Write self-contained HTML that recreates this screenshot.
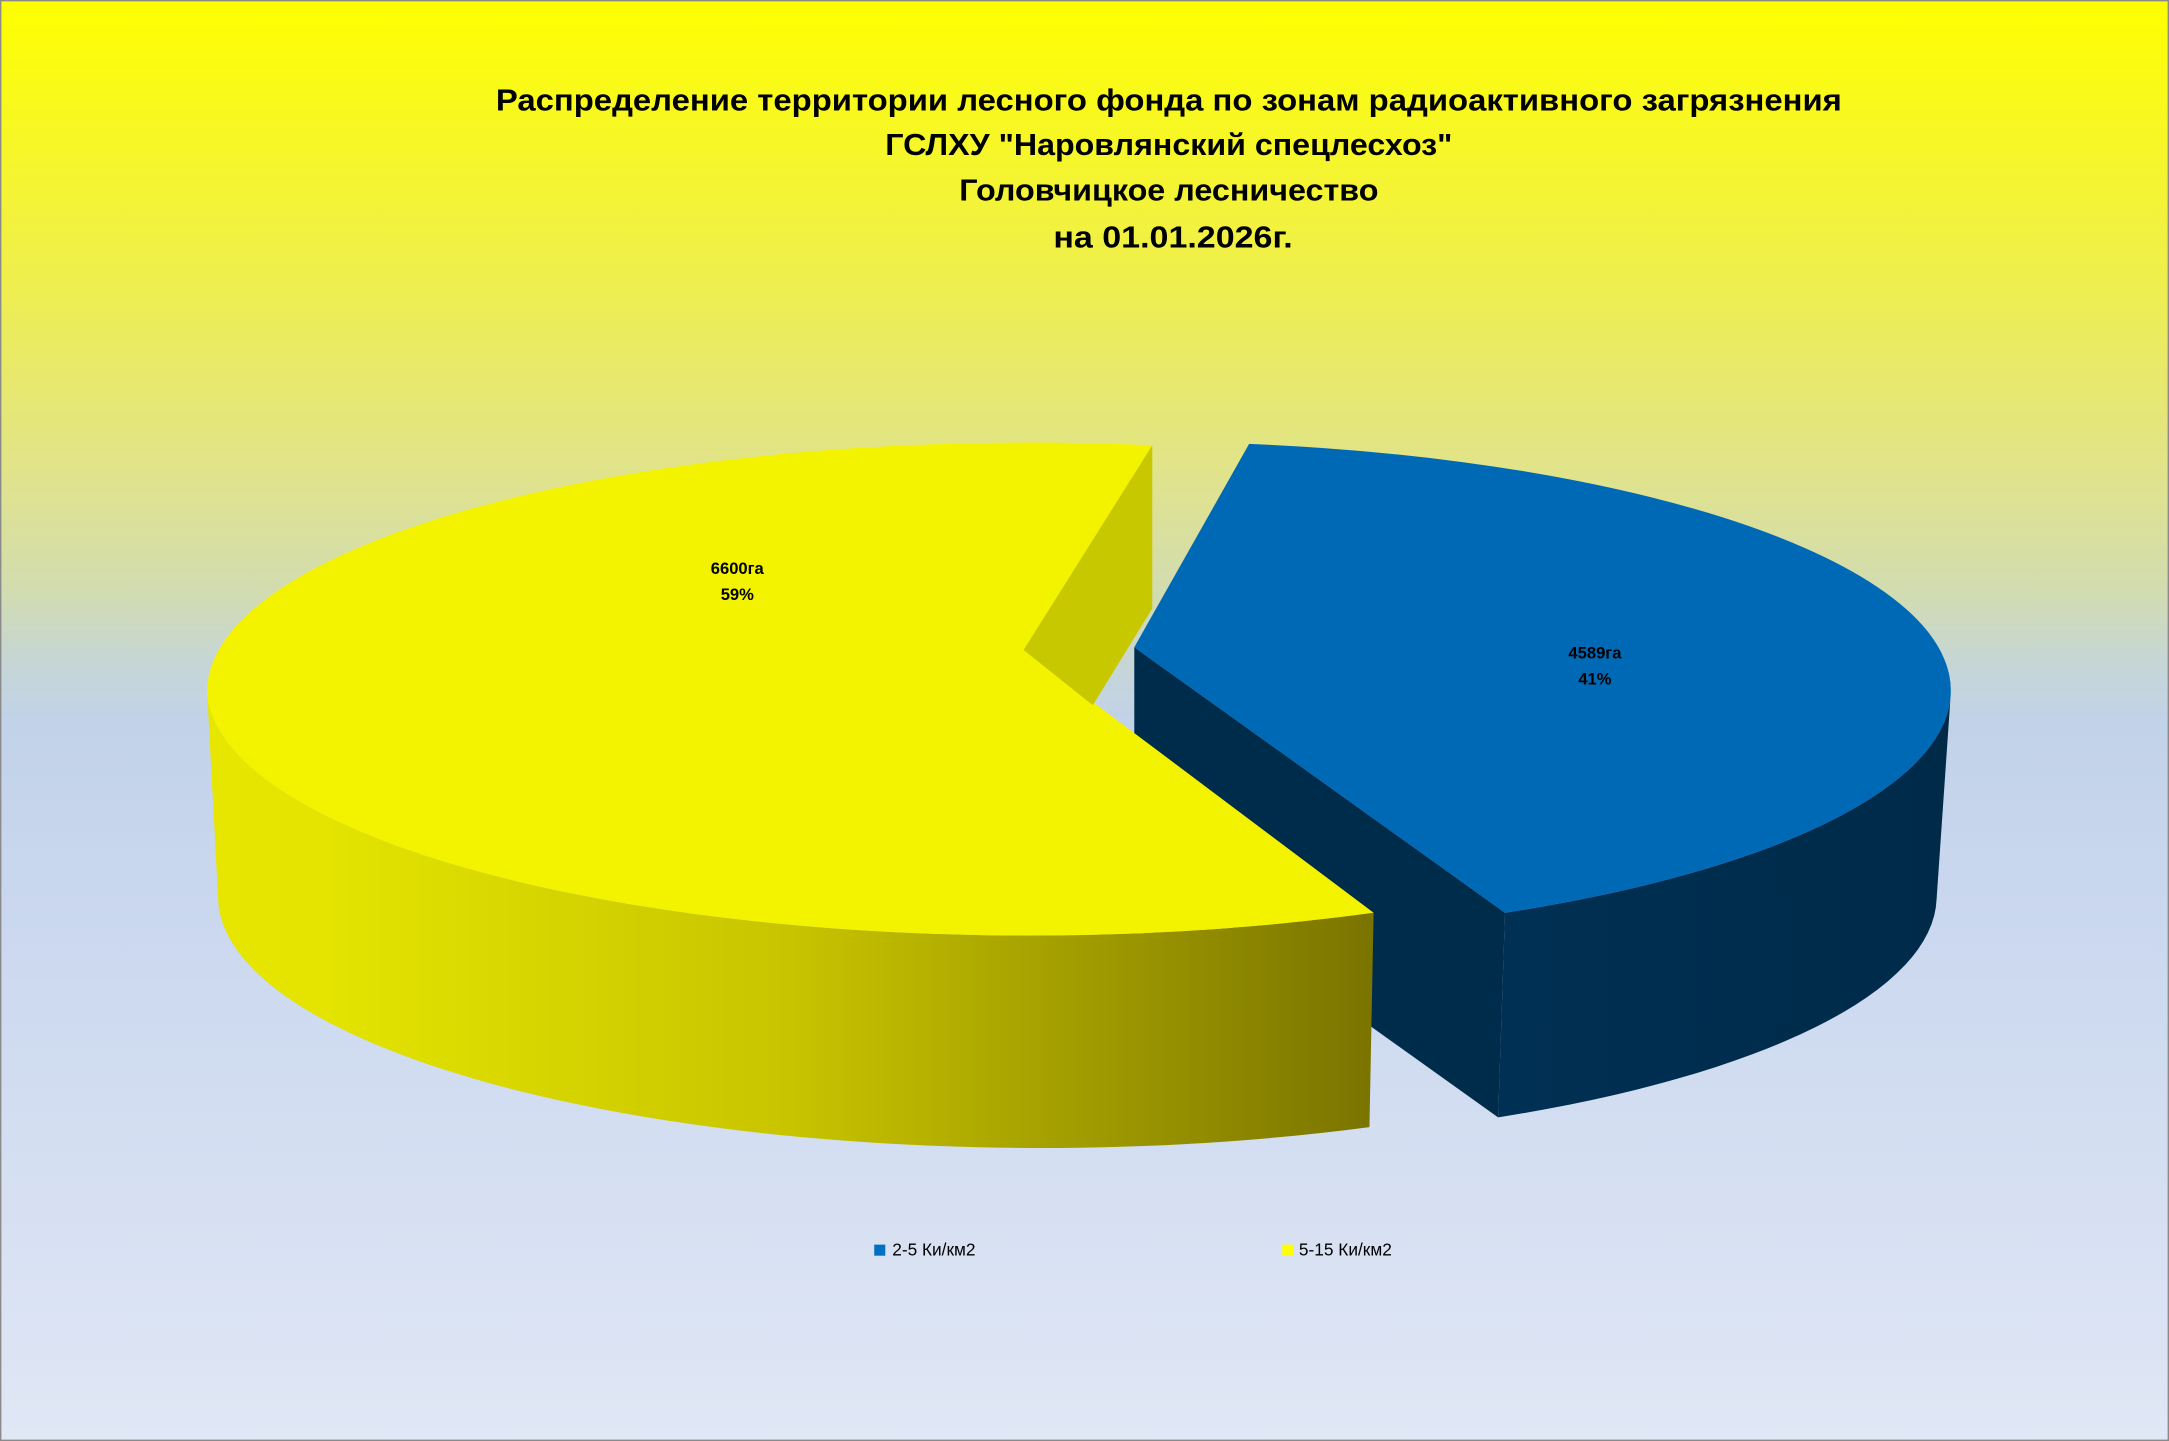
<!DOCTYPE html>
<html><head><meta charset="utf-8">
<style>html,body{margin:0;padding:0;overflow:hidden;background:#fff}svg{display:block}</style>
</head><body>
<svg width="2169" height="1441" viewBox="0 0 1568 1042" preserveAspectRatio="none" xmlns="http://www.w3.org/2000/svg">
<defs>
<linearGradient id="bg" x1="0" y1="0" x2="0" y2="1">
<stop offset="0" stop-color="#ffff00"/>
<stop offset="0.2" stop-color="#eeee50"/>
<stop offset="0.33" stop-color="#e0e38c"/>
<stop offset="0.41" stop-color="#d2dcb0"/>
<stop offset="0.46" stop-color="#c6d6d6"/>
<stop offset="0.5" stop-color="#c2d2e8"/>
<stop offset="0.6" stop-color="#c8d6ee"/>
<stop offset="1" stop-color="#e0e7f5"/>
</linearGradient>
<linearGradient id="ys" x1="150" y1="0" x2="993" y2="0" gradientUnits="userSpaceOnUse">
<stop offset="0" stop-color="#e6e600"/>
<stop offset="0.1" stop-color="#e4e400"/>
<stop offset="0.5" stop-color="#c8c400"/>
<stop offset="1" stop-color="#7a7400"/>
</linearGradient>
<linearGradient id="bs" x1="1088" y1="0" x2="1410" y2="0" gradientUnits="userSpaceOnUse">
<stop offset="0" stop-color="#003054"/>
<stop offset="1" stop-color="#002a48"/>
</linearGradient>
</defs>
<rect x="0" y="0" width="1568" height="1042" fill="url(#bg)"/>
<rect x="0.5" y="0.5" width="1567" height="1041" fill="none" stroke="#8a8a8a" stroke-width="1"/>

<g font-family="Liberation Sans, Arial, sans-serif" font-weight="bold" fill="#000" text-anchor="middle" font-size="22">
<text x="845" y="80" textLength="973" lengthAdjust="spacingAndGlyphs">Распределение территории лесного фонда по зонам радиоактивного загрязнения</text>
<text x="845" y="112" textLength="410" lengthAdjust="spacingAndGlyphs">ГСЛХУ "Наровлянский спецлесхоз"</text>
<text x="845" y="145" textLength="303" lengthAdjust="spacingAndGlyphs">Головчицкое лесничество</text>
<text x="848" y="179" textLength="173" lengthAdjust="spacingAndGlyphs">на 01.01.2026г.</text>
</g>

<path d="M1088,660 A585,180 0 0 0 1410,505 L1400,650 A585,180 0 0 1 1083,808 Z" fill="url(#bs)"/>
<path d="M820,468 L1088,660 L1083,808 L820,620 Z" fill="#002c4c"/>
<path d="M820,468 L903,321 A585,180 0 0 1 1410,505 A585,180 0 0 1 1088,660 Z" fill="#0069b6"/>

<path d="M150,505 A595,180 0 0 0 993,660 L990,815 A595,182 0 0 1 158,655 Z" fill="url(#ys)"/>
<path d="M740,470 L833,322 A595,180 0 0 0 150,505 A595,180 0 0 0 993,660 Z" fill="#f3f300"/>
<path d="M740,470 L833,322 L833,440 L790,510 Z" fill="#c8c800"/>

<g font-family="Liberation Sans, Arial, sans-serif" font-weight="bold" font-size="12" fill="#000" text-anchor="middle">
<text x="533" y="415">6600га</text>
<text x="533" y="434">59%</text>
<text x="1153" y="476">4589га</text>
<text x="1153" y="495">41%</text>
</g>

<rect x="632" y="900" width="8" height="8" fill="#0070c0"/>
<text x="645" y="908" font-family="Liberation Sans, Arial, sans-serif" font-size="12.5" fill="#000">2-5 Ки/км2</text>
<rect x="927" y="900" width="8" height="8" fill="#ffff00"/>
<text x="939" y="908" font-family="Liberation Sans, Arial, sans-serif" font-size="12.5" fill="#000">5-15 Ки/км2</text>
</svg>
</body></html>
